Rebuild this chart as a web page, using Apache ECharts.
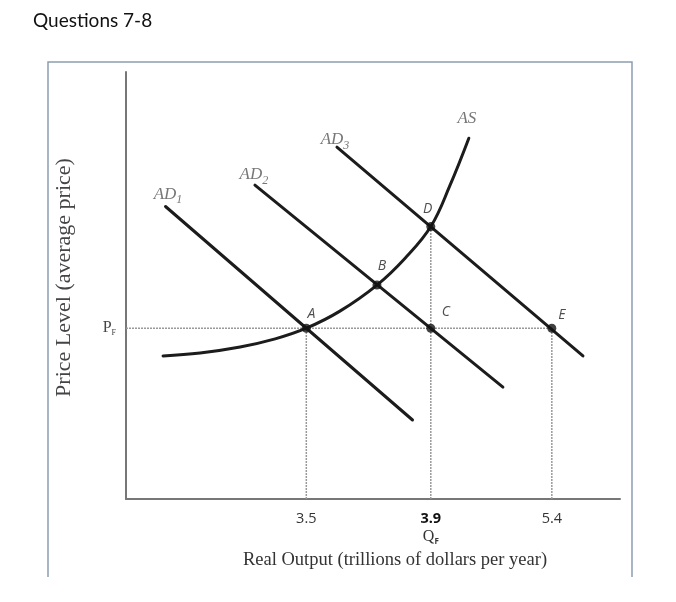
<!DOCTYPE html>
<html>
<head>
<meta charset="utf-8">
<script src="https://cdn.jsdelivr.net/npm/echarts@6/dist/echarts.min.js"></script>
<style>html,body{margin:0;padding:0;background:#fff;}#chart{width:676px;height:602px;}</style>
</head>
<body>
<div id="chart"></div>
<script>
// ---- data (abstract model units: x 0..100 output, y 0..100 price level) ----
const titleText = 'Questions 7-8';
const xAxisTitle = 'Real Output (trillions of dollars per year)';
const yAxisTitle = 'Price Level (average price)';
const xTickLabels = ['3.5', '3.9', '5.4'];
const xTickPos = [36.5, 61.7, 86.2];
const priceLevelLabel = 'P';
const priceLevel = 40;
const ad1 = [[8, 68.5], [58, 18.5]];
const ad2 = [[26.1, 73.5], [76.3, 26.2]];
const ad3 = [[42.7, 82.4], [92.5, 33.5]];
const asCurve = [[7.5, 33.5], [15.0, 34.2], [23.1, 35.6], [30.2, 37.5], [36.5, 40], [43.3, 44.0], [50.8, 50.1], [56.5, 56.4], [61.7, 63.8], [65.6, 73.5], [69.4, 84.5]];
const pointNames = ['A', 'B', 'C', 'D', 'E'];
const pointX = [36.5, 50.8, 61.7, 61.7, 86.2];
const pointY = [40, 50.1, 40, 63.8, 40];
const curveNames = ['AD', 'AD', 'AD', 'AS'];
const curveSubs = ['1', '2', '3', ''];
const curveLabelX = [8.5, 25.9, 42.3, 69.0];
const curveLabelY = [71.4, 75.9, 84.1, 89.2];

// ---- build ----
const chart = echarts.init(document.getElementById('chart'), null, {renderer: 'canvas'});
const lineCol = '#1c1c1c';
const guideCol = '#9a9a9a';
const pointLabelOffsets = [[5, -14], [5, -19], [15, -16], [-3, -18], [10, -13]];

const guideSeries = [];
guideSeries.push([[0, priceLevel], [pointX[4], priceLevel]]);
[0, 3, 4].forEach(i => guideSeries.push([[pointX[i], 0], [pointX[i], pointY[i]]]));

const series = [];
guideSeries.forEach(d => series.push({
  type: 'line', data: d, symbol: 'none', silent: true, z: 1,
  lineStyle: {color: guideCol, width: 1.5, type: [2, 1]}
}));
[ad1, ad2, ad3].forEach(d => series.push({
  type: 'line', data: d, symbol: 'none', silent: true, z: 2,
  lineStyle: {color: lineCol, width: 3, cap: 'round'}
}));
series.push({
  type: 'line', data: asCurve, symbol: 'none', smooth: 0.4, silent: true, z: 2,
  lineStyle: {color: lineCol, width: 3, cap: 'round'}
});
series.push({
  type: 'scatter', z: 5, symbolSize: 9, itemStyle: {color: '#111'},
  data: pointNames.map((n, i) => ({
    value: [pointX[i], pointY[i]], name: n,
    label: {show: true, position: 'inside', offset: pointLabelOffsets[i], formatter: n,
      fontFamily: 'Open Sans', fontStyle: 'italic', fontSize: 14, color: '#222'}
  }))
});
series.push({
  type: 'scatter', z: 5, symbolSize: 0,
  data: curveNames.map((n, i) => ({
    value: [curveLabelX[i], curveLabelY[i]],
    label: {show: true, position: 'inside',
      formatter: curveSubs[i] ? '{m|' + n + '}{s|' + curveSubs[i] + '}' : '{m|' + n + '}',
      rich: {
        m: {fontFamily: 'Liberation Serif', fontStyle: 'italic', fontSize: 17, color: '#555', lineHeight: 24},
        s: {fontFamily: 'Liberation Serif', fontStyle: 'italic', fontSize: 12, color: '#555', lineHeight: 12, verticalAlign: 'bottom'}
      }}
  }))
});

chart.setOption({
  animation: false,
  backgroundColor: '#fff',
  graphic: [
    {type: 'text', left: 33, top: 11, style: {text: titleText, font: '19px Lato', fill: '#111'}},
    {type: 'polyline', silent: true, shape: {points: [[48, 577], [48, 62], [632, 62], [632, 577]]},
      style: {stroke: '#8d9cb2', lineWidth: 1.5, fill: null}}
  ],
  grid: {left: 126, right: 56, top: 72, bottom: 103},
  xAxis: {
    type: 'value', min: 0, max: 100,
    splitLine: {show: false},
    axisLine: {show: true, onZero: false, lineStyle: {color: '#777', width: 2}},
    axisTick: {show: false},
    axisLabel: {
      show: true, customValues: xTickPos, margin: 11,
      formatter: function (v) {
        const i = xTickPos.indexOf(v);
        if (i < 0) return '';
        if (i === 1) return '{b|' + xTickLabels[i] + '}\n{q|Q}{f|F}';
        return '{n|' + xTickLabels[i] + '}';
      },
      rich: {
        n: {fontFamily: 'Open Sans', fontSize: 14.5, color: '#333', lineHeight: 18},
        b: {fontFamily: 'Open Sans', fontSize: 14.5, fontWeight: 'bold', color: '#111', lineHeight: 18},
        q: {fontFamily: 'Liberation Serif', fontSize: 16, color: '#333', lineHeight: 18},
        f: {fontFamily: 'Open Sans', fontSize: 8, fontWeight: 'bold', color: '#333', lineHeight: 10, verticalAlign: 'bottom'}
      }
    },
    name: xAxisTitle, nameLocation: 'middle', nameGap: 48,
    nameTextStyle: {fontFamily: 'Liberation Serif', fontSize: 18.5, color: '#333', padding: [0, 0, 0, 44]}
  },
  yAxis: {
    type: 'value', min: 0, max: 100,
    splitLine: {show: false},
    axisLine: {show: true, onZero: false, lineStyle: {color: '#777', width: 2}},
    axisTick: {show: false},
    axisLabel: {
      show: true, customValues: [priceLevel], margin: 10,
      formatter: function () { return '{p|' + priceLevelLabel + '}{s|F}'; },
      rich: {
        p: {fontFamily: 'Liberation Serif', fontSize: 16, color: '#444', lineHeight: 18},
        s: {fontFamily: 'Liberation Serif', fontSize: 8, color: '#444', lineHeight: 8, verticalAlign: 'bottom'}
      }
    },
    name: yAxisTitle, nameLocation: 'middle', nameGap: 51,
    nameTextStyle: {fontFamily: 'Liberation Serif', fontSize: 22, color: '#444', padding: [0, 0, 0, 16]}
  },
  series: series
});
</script>
</body>
</html>
